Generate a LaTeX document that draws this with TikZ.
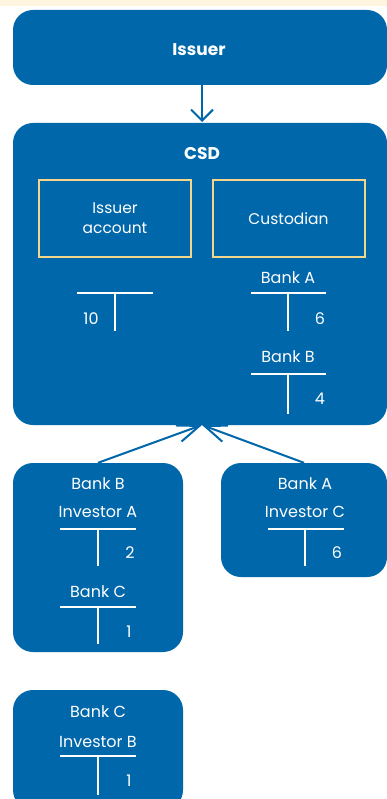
\documentclass[tikz,border=0pt]{standalone}
\usepackage{fontspec}
\setmainfont{Poppins}
\usetikzlibrary{arrows.meta}
\definecolor{bblue}{RGB}{0,103,170}
\definecolor{cream}{RGB}{255,245,222}
\definecolor{gold}{RGB}{243,214,140}
\tikzset{
  box/.style={fill=bblue, rounded corners=20pt, inner sep=0pt},
  inbox/.style={draw=gold, line width=2pt, fill=bblue, inner sep=0pt, minimum width=152pt, minimum height=77pt, align=center, text=white, font=\fontsize{15.5}{24}\selectfont},
  lbl/.style={text=white, inner sep=0pt, font=\fontsize{16}{19}\selectfont},
  ttl/.style={text=white, inner sep=0pt, font=\bfseries\fontsize{17}{20}\selectfont},
  tline/.style={draw=white, line width=2.4pt},
  arr/.style={draw=bblue, line width=2pt},
}
\begin{document}
\begin{tikzpicture}[x=1pt,y=-1pt]
\useasboundingbox (0,0) rectangle (387,799);
\fill[white] (0,0) rectangle (387,799);
\fill[cream] (0,0) rectangle (387,6);
\begin{scope}
\clip (0,0) rectangle (387,799);
% main boxes
\node[box, minimum width=374pt, minimum height=75pt] (issuer) at (200,47.5) {};
\node[box, minimum width=374pt, minimum height=302pt] (csd) at (200,274) {};
\node[box, minimum width=170pt, minimum height=189pt] (bbox) at (98,557.5) {};
\node[box, minimum width=166pt, minimum height=114pt] (abox) at (304,520) {};
\node[box, minimum width=170pt, minimum height=120pt] (cbox) at (98,750) {};
\end{scope}
% titles
\node[ttl] (tissuer) at (199,50) {Issuer};
\node[ttl] (tcsd) at (202,154) {CSD};
% inner boxes
\node[inbox] (iacc) at (115,218.5) {Issuer\\[-4pt]account};
\node[inbox] (cust) at (288.5,218.5) {Custodian};
% issuer account T
\coordinate (l1) at (77,293); \coordinate (r1) at (153,293);
\coordinate (v1a) at (115,293); \coordinate (v1b) at (115,331);
\draw[tline] (l1) -- (r1); \draw[tline] (v1a) -- (v1b);
\node[lbl] (n10) at (91,319) {10};
% Bank A T in CSD
\node[lbl] (tbanka) at (288,278) {Bank A};
\coordinate (l2) at (251,293); \coordinate (r2) at (326,293);
\coordinate (v2a) at (288,293); \coordinate (v2b) at (288,331);
\draw[tline] (l2) -- (r2); \draw[tline] (v2a) -- (v2b);
\node[lbl] (n6a) at (320,319) {6};
% Bank B T in CSD
\node[lbl] (tbankb) at (288,357) {Bank B};
\coordinate (l3) at (251,374); \coordinate (r3) at (326,374);
\coordinate (v3a) at (288,374); \coordinate (v3b) at (288,414);
\draw[tline] (l3) -- (r3); \draw[tline] (v3a) -- (v3b);
\node[lbl] (n4) at (320,399) {4};
% left box: Bank B / Investor A
\node[lbl] (lb1) at (98,484) {Bank B};
\node[lbl] (lb2) at (98,512) {Investor A};
\coordinate (l4) at (60,529); \coordinate (r4) at (136,529);
\coordinate (v4a) at (98,529); \coordinate (v4b) at (98,566);
\draw[tline] (l4) -- (r4); \draw[tline] (v4a) -- (v4b);
\node[lbl] (n2) at (130,553) {2};
\node[lbl] (lb3) at (98,592) {Bank C};
\coordinate (l5) at (60,607); \coordinate (r5) at (136,607);
\coordinate (v5a) at (98,607); \coordinate (v5b) at (98,644);
\draw[tline] (l5) -- (r5); \draw[tline] (v5a) -- (v5b);
\node[lbl] (n1a) at (129,632) {1};
% right box: Bank A / Investor C
\node[lbl] (rb1) at (305,484) {Bank A};
\node[lbl] (rb2) at (305,512) {Investor C};
\coordinate (l6) at (268,529); \coordinate (r6) at (344,529);
\coordinate (v6a) at (305,529); \coordinate (v6b) at (305,566);
\draw[tline] (l6) -- (r6); \draw[tline] (v6a) -- (v6b);
\node[lbl] (n6b) at (337,553) {6};
% bottom box: Bank C / Investor B
\node[lbl] (cb1) at (98,712) {Bank C};
\node[lbl] (cb2) at (98,742) {Investor B};
\coordinate (l7) at (60,756); \coordinate (r7) at (136,756);
\coordinate (v7a) at (98,756); \coordinate (v7b) at (98,795);
\draw[tline] (l7) -- (r7); \draw[tline] (v7a) -- (v7b);
\node[lbl] (n1b) at (129,781) {1};
% arrows
\coordinate (itop) at (202,85);
\coordinate (ctop) at (202,122);
\coordinate (cbot) at (202,425);
\draw[arr, -{Straight Barb[length=11pt,width=22pt,line width=2pt]}] (itop) -- (ctop);
\draw[arr, -{Straight Barb[length=22pt,width=17pt,line width=2pt]}] (bbox.north) -- (cbot);
\draw[arr, -{Straight Barb[length=22pt,width=17pt,line width=2pt]}] (abox.north) -- (cbot);
\end{tikzpicture}
\end{document}
